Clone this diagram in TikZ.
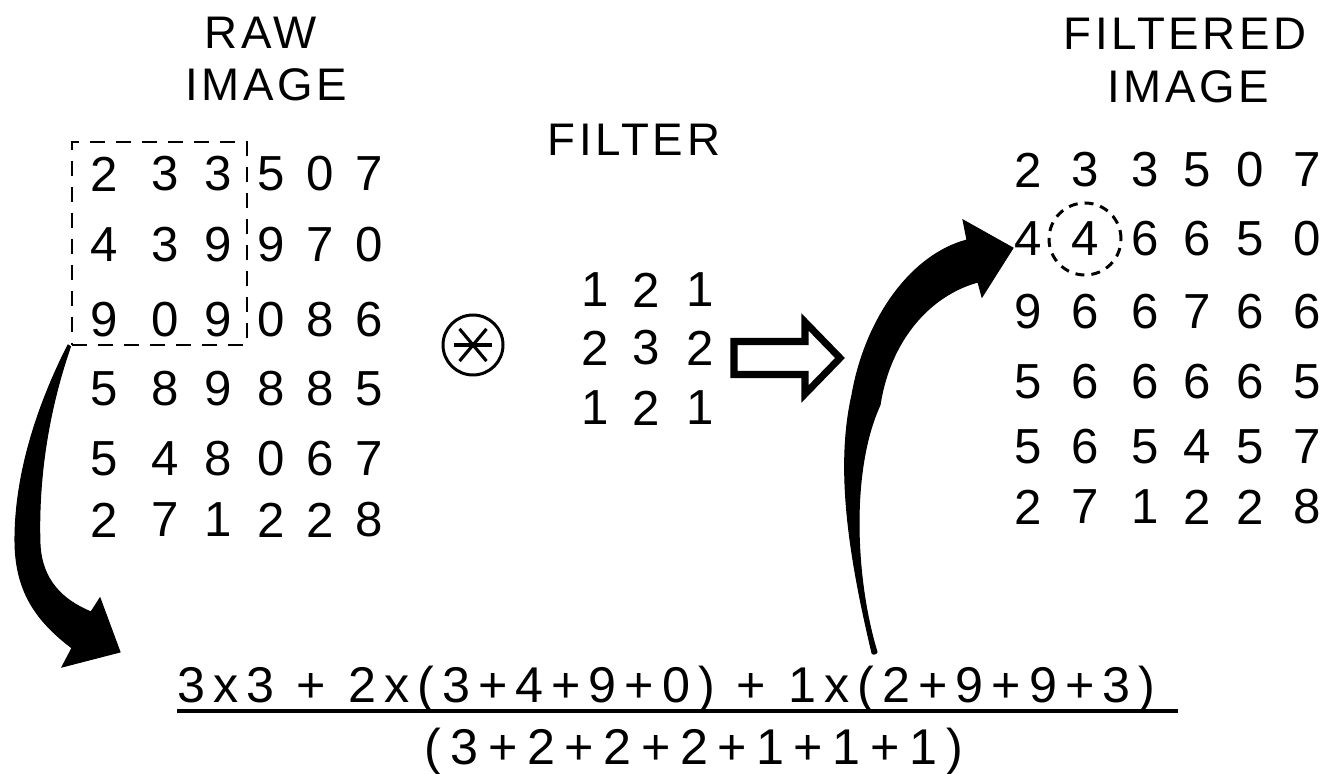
\documentclass[tikz,border=0pt]{standalone}
\usepackage{fontspec}
\setmainfont{Liberation Sans}
\usetikzlibrary{positioning}

\begin{document}
\begin{tikzpicture}[
  digit/.style={inner sep=0pt, font=\fontsize{14}{16}\selectfont},
  title/.style={inner sep=0pt, font=\fontsize{13}{15}\selectfont\addfontfeatures{LetterSpace=8}},
  sum/.style={inner sep=0pt, anchor=base, font=\fontsize{14.3}{17}\selectfont\addfontfeatures{LetterSpace=16}},
  frame/.style={draw, line width=0.85pt, dash pattern=on 0.15cm off 0.11cm},
  bigarrow/.style={fill=black, draw=black, line width=0.3pt},
]
  \useasboundingbox (0,0) rectangle (13.39,-7.74);

  % titles
  \node[title] (rawtop)  at (2.61,-0.33)  {RAW};
  \node[title] (rawbot)  at (2.66,-0.85)  {IMAGE};
  \node[title] (filttop) at (11.85,-0.34) {FILTERED};
  \node[title] (filtbot) at (11.88,-0.87) {IMAGE};
  \node[title] (kertop)  at (6.34,-1.40)  {FILTER};

  % raw image
  \foreach \i/\y/\vals in {1/1.74/{2,3,3,5,0,7}, 2/2.45/{4,3,9,9,7,0}, 3/3.20/{9,0,9,0,8,6},
                           4/3.89/{5,8,9,8,8,5}, 5/4.59/{5,4,8,0,6,7}, 6/5.20/{2,7,1,2,2,8}}{
    \foreach \v [count=\j] in \vals {
      \pgfmathsetmacro\cx{{1.04,1.65,2.18,2.71,3.20,3.69}[\j-1]}
      \node[digit] (raw-\i-\j) at (\cx,-\y) {\v};
    }
  }

  % filtered image
  \foreach \i/\y/\vals in {1/1.70/{2,3,3,5,0,7}, 2/2.39/{4,4,6,6,5,0}, 3/3.12/{9,6,6,7,6,6},
                           4/3.82/{5,6,6,6,6,5}, 5/4.47/{5,6,5,4,5,7}, 6/5.07/{2,7,1,2,2,8}}{
    \foreach \v [count=\j] in \vals {
      \pgfmathsetmacro\cx{{10.28,10.85,11.45,11.97,12.50,13.07}[\j-1]}
      \node[digit] (filt-\i-\j) at (\cx,-\y) {\v};
    }
  }

  % filter kernel
  \foreach \i/\y/\vals in {1/2.90/{1,2,1}, 2/3.48/{2,3,2}, 3/4.08/{1,2,1}}{
    \foreach \v [count=\j] in \vals {
      \pgfmathsetmacro\cx{{5.95,6.46,7.00}[\j-1]}
      \node[digit] (ker-\i-\j) at (\cx,-\y) {\v};
    }
  }

  \node[frame, minimum width=1.75cm, minimum height=2.03cm, inner sep=0pt] (window) at (1.595,-2.435) {};
  \node[draw, circle, line width=0.85pt, dash pattern=on 0.09cm off 0.07cm,
        minimum size=0.72cm, inner sep=0pt] (pick) at (filt-2-2) {};

  % convolution sign
  \node[draw, circle, line width=0.85pt, minimum size=0.6cm, inner sep=0pt] (conv) at (4.73,-3.45) {};
  \draw[line width=0.9pt] (conv.center) ++(-0.19,0) -- ++(0.38,0);
  \draw[line width=0.9pt] (conv.center) ++(130:0.21) -- ++(-50:0.42);
  \draw[line width=0.9pt] (conv.center) ++(50:0.21) -- ++(230:0.42);

  % hollow arrow
  \draw[line width=2pt] (7.34,-3.415) -- (8.05,-3.415) -- (8.05,-3.22) -- (8.40,-3.58)
    -- (8.05,-3.94) -- (8.05,-3.745) -- (7.34,-3.745) -- cycle;

  % formula
  \node[sum] (num) at (6.665,-7.03) {3x3 + 2x(3+4+9+0) + 1x(2+9+9+3)};
  \node[sum, font=\fontsize{14.3}{17}\selectfont\addfontfeatures{LetterSpace=19}] (den) at (6.94,-7.64) {(3+2+2+2+1+1+1)};
  \draw[line width=0.9pt] ([yshift=-0.08cm]num.base west) -- ([xshift=0.22cm,yshift=-0.08cm]num.base east);

  % curved arrows
  \fill[bigarrow] (window.south west) .. controls (0.45,-4.2) and (0.38,-4.9) .. (0.40,-5.45)
    .. controls (0.42,-5.8) and (0.62,-6.0) .. (0.91,-6.12) -- (1.00,-5.98) -- (1.20,-6.52)
    -- (0.62,-6.67) -- (0.72,-6.48) .. controls (0.35,-6.2) and (0.15,-5.9) .. (0.15,-5.4)
    .. controls (0.15,-4.7) and (0.40,-4.0) .. (0.68,-3.45) -- cycle;
  \fill[bigarrow] (8.72,-6.53) .. controls (8.50,-5.6) and (8.35,-4.7) .. (8.52,-3.95)
    .. controls (8.65,-3.2) and (9.10,-2.55) .. (9.67,-2.40) -- (9.63,-2.20) -- (10.13,-2.48)
    -- (9.82,-2.97) -- (9.78,-2.82) .. controls (9.30,-2.95) and (8.90,-3.40) .. (8.80,-4.05)
    .. controls (8.50,-4.70) and (8.55,-5.80) .. (8.77,-6.52) to[out=-90,in=-90] cycle;
\end{tikzpicture}
\end{document}
